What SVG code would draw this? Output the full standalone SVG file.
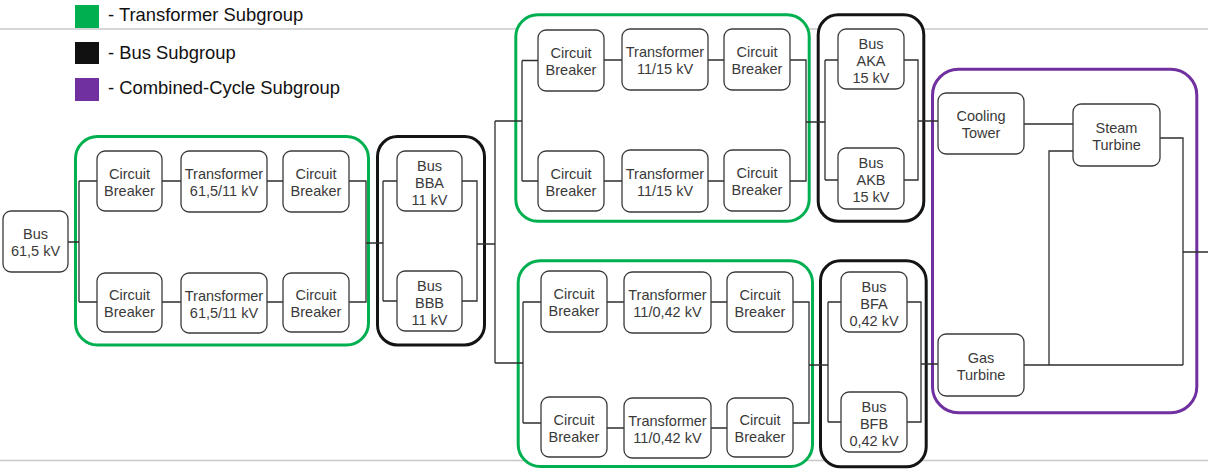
<svg xmlns="http://www.w3.org/2000/svg" width="1208" height="470" viewBox="0 0 1208 470">
  <style>
    .rule { stroke: #c8c8c8; stroke-width: 1.5; fill: none; }
    .grp { fill: #ffffff; stroke-width: 3; }
    .tg { stroke: #00b050; }
    .bg { stroke: #141414; }
    .cc { stroke: #7030a0; }
    .node rect { fill: #ffffff; stroke: #3a3a3a; stroke-width: 1.3; }
    .node text { font-family: "Liberation Sans", Arial, sans-serif; font-size: 14.5px; fill: #3a3a3a; text-anchor: middle; }
    .wire { fill: none; stroke: #2e2e2e; stroke-width: 1.3; }
    .legend text { font-family: "Liberation Sans", Arial, sans-serif; font-size: 18.4px; fill: #111111; }
  </style>

  <!-- page rules -->
  <line class="rule" x1="0" y1="29" x2="1208" y2="29"/>
  <line class="rule" x1="0" y1="460.5" x2="1208" y2="460.5"/>

  <!-- subgroup frames -->
  <g id="subgroups">
    <rect id="tg-615-11" class="grp tg" x="75.5" y="136.5" width="293" height="208.5" rx="22"/>
    <rect id="bg-bb" class="grp bg" x="377.5" y="136.5" width="107" height="208.5" rx="20"/>
    <rect id="tg-11-15" class="grp tg" x="515.8" y="14.8" width="293.4" height="206.4" rx="22"/>
    <rect id="bg-ak" class="grp bg" x="818.2" y="14.8" width="105.6" height="206.4" rx="20"/>
    <rect id="tg-11-042" class="grp tg" x="518.2" y="260.8" width="294.3" height="205.7" rx="22"/>
    <rect id="bg-bf" class="grp bg" x="820.5" y="260.8" width="105.7" height="206" rx="20"/>
    <rect id="cc-group" class="grp cc" x="932.5" y="69.2" width="264.3" height="343.6" rx="26"/>
  </g>

  <!-- connectors -->
  <g id="connectors" class="wire">
    <path d="M68,242 H79 M79,181 V302 M79,181 H97 M79,302 H97"/>
    <path d="M162,181 H181 M267,181 H283 M162,302 H181 M267,302 H283"/>
    <path d="M349,181 H366 V302 H349 M366,243 H383"/>
    <path d="M383,181 V301 M383,181 H397 M383,301 H397"/>
    <path d="M462,181 H477 V301 H462 M477,244 H495"/>
    <path d="M495,121 V363"/>
    <path d="M495,121 H522 M522,60.5 V181 M522,60.5 H538 M522,181 H538"/>
    <path d="M604,60 H622 M708,60 H724 M604,181 H622 M708,181 H724"/>
    <path d="M790,60 H806 V181 H790 M806,122 H825"/>
    <path d="M825,60 V180 M825,60 H838 M825,180 H838"/>
    <path d="M904,60 H918 V180 H904 M918,121 H938"/>
    <path d="M495,363 H523 M523,302 V423 M523,302 H541 M523,423 H541"/>
    <path d="M607,302 H624 M711,302 H727 M607,428 H624 M711,428 H727"/>
    <path d="M793,302 H809 V423 H793 M809,365 H828"/>
    <path d="M828,302 V422 M828,302 H841 M828,422 H841"/>
    <path d="M907,302 H921 V422 H907 M921,364 H938"/>
    <path d="M1024,124 H1073 M1073,151 H1049 V365 M1024,365 H1183"/>
    <path d="M1160,138 H1183 V365 M1183,252 H1208"/>
  </g>

  <!-- incoming bus -->
  <g id="bus-615" class="node">
    <rect x="3" y="211" width="65" height="61" rx="8"/>
    <text><tspan x="35.5" y="239">Bus</tspan><tspan x="35.5" y="256">61,5 kV</tspan></text>
  </g>

  <!-- 61,5/11 kV transformer lines -->
  <g id="cb-1a" class="node">
    <rect x="97" y="151" width="65" height="60" rx="8"/>
    <text><tspan x="129.5" y="178.5">Circuit</tspan><tspan x="129.5" y="195.5">Breaker</tspan></text>
  </g>
  <g id="tr-1" class="node">
    <rect x="181" y="151" width="86" height="61" rx="8"/>
    <text><tspan x="224" y="179">Transformer</tspan><tspan x="224" y="196">61,5/11 kV</tspan></text>
  </g>
  <g id="cb-1b" class="node">
    <rect x="283" y="151" width="66" height="61" rx="8"/>
    <text><tspan x="316" y="179">Circuit</tspan><tspan x="316" y="196">Breaker</tspan></text>
  </g>
  <g id="cb-2a" class="node">
    <rect x="97" y="273" width="65" height="59" rx="8"/>
    <text><tspan x="129.5" y="300">Circuit</tspan><tspan x="129.5" y="317">Breaker</tspan></text>
  </g>
  <g id="tr-2" class="node">
    <rect x="181" y="273" width="86" height="60" rx="8"/>
    <text><tspan x="224" y="300.5">Transformer</tspan><tspan x="224" y="317.5">61,5/11 kV</tspan></text>
  </g>
  <g id="cb-2b" class="node">
    <rect x="283" y="273" width="66" height="59" rx="8"/>
    <text><tspan x="316" y="300">Circuit</tspan><tspan x="316" y="317">Breaker</tspan></text>
  </g>

  <!-- 11 kV buses -->
  <g id="bus-bba" class="node">
    <rect x="397" y="151" width="65" height="60" rx="8"/>
    <text><tspan x="429.5" y="170.5">Bus</tspan><tspan x="429.5" y="187.5">BBA</tspan><tspan x="429.5" y="204.5">11 kV</tspan></text>
  </g>
  <g id="bus-bbb" class="node">
    <rect x="397" y="271" width="65" height="60" rx="8"/>
    <text><tspan x="429.5" y="290.5">Bus</tspan><tspan x="429.5" y="307.5">BBB</tspan><tspan x="429.5" y="324.5">11 kV</tspan></text>
  </g>

  <!-- 11/15 kV transformer lines -->
  <g id="cb-3a" class="node">
    <rect x="538" y="30" width="66" height="61" rx="8"/>
    <text><tspan x="571" y="58">Circuit</tspan><tspan x="571" y="75">Breaker</tspan></text>
  </g>
  <g id="tr-3" class="node">
    <rect x="622" y="29" width="86" height="61" rx="8"/>
    <text><tspan x="665" y="57">Transformer</tspan><tspan x="665" y="74">11/15 kV</tspan></text>
  </g>
  <g id="cb-3b" class="node">
    <rect x="724" y="29" width="66" height="61" rx="8"/>
    <text><tspan x="757" y="57">Circuit</tspan><tspan x="757" y="74">Breaker</tspan></text>
  </g>
  <g id="cb-4a" class="node">
    <rect x="538" y="151" width="66" height="60" rx="8"/>
    <text><tspan x="571" y="178.5">Circuit</tspan><tspan x="571" y="195.5">Breaker</tspan></text>
  </g>
  <g id="tr-4" class="node">
    <rect x="622" y="150" width="86" height="62" rx="8"/>
    <text><tspan x="665" y="178.5">Transformer</tspan><tspan x="665" y="195.5">11/15 kV</tspan></text>
  </g>
  <g id="cb-4b" class="node">
    <rect x="724" y="150" width="66" height="61" rx="8"/>
    <text><tspan x="757" y="178">Circuit</tspan><tspan x="757" y="195">Breaker</tspan></text>
  </g>

  <!-- 11/0,42 kV transformer lines -->
  <g id="cb-5a" class="node">
    <rect x="541" y="271" width="66" height="61" rx="8"/>
    <text><tspan x="574" y="299">Circuit</tspan><tspan x="574" y="316">Breaker</tspan></text>
  </g>
  <g id="tr-5" class="node">
    <rect x="624" y="272" width="87" height="61" rx="8"/>
    <text><tspan x="667.5" y="300">Transformer</tspan><tspan x="667.5" y="317">11/0,42 kV</tspan></text>
  </g>
  <g id="cb-5b" class="node">
    <rect x="727" y="272" width="66" height="60" rx="8"/>
    <text><tspan x="760" y="299.5">Circuit</tspan><tspan x="760" y="316.5">Breaker</tspan></text>
  </g>
  <g id="cb-6a" class="node">
    <rect x="541" y="397" width="66" height="60" rx="8"/>
    <text><tspan x="574" y="424.5">Circuit</tspan><tspan x="574" y="441.5">Breaker</tspan></text>
  </g>
  <g id="tr-6" class="node">
    <rect x="624" y="398" width="87" height="60" rx="8"/>
    <text><tspan x="667.5" y="425.5">Transformer</tspan><tspan x="667.5" y="442.5">11/0,42 kV</tspan></text>
  </g>
  <g id="cb-6b" class="node">
    <rect x="727" y="398" width="66" height="59" rx="8"/>
    <text><tspan x="760" y="425">Circuit</tspan><tspan x="760" y="442">Breaker</tspan></text>
  </g>

  <!-- 15 kV buses -->
  <g id="bus-aka" class="node">
    <rect x="838" y="29" width="66" height="60" rx="8"/>
    <text><tspan x="871" y="48.5">Bus</tspan><tspan x="871" y="65.5">AKA</tspan><tspan x="871" y="82.5">15 kV</tspan></text>
  </g>
  <g id="bus-akb" class="node">
    <rect x="838" y="148" width="66" height="61" rx="8"/>
    <text><tspan x="871" y="168">Bus</tspan><tspan x="871" y="185">AKB</tspan><tspan x="871" y="202">15 kV</tspan></text>
  </g>

  <!-- 0,42 kV buses -->
  <g id="bus-bfa" class="node">
    <rect x="841" y="272" width="66" height="60" rx="8"/>
    <text><tspan x="874" y="291.5">Bus</tspan><tspan x="874" y="308.5">BFA</tspan><tspan x="874" y="325.5">0,42 kV</tspan></text>
  </g>
  <g id="bus-bfb" class="node">
    <rect x="841" y="392" width="66" height="60" rx="8"/>
    <text><tspan x="874" y="411.5">Bus</tspan><tspan x="874" y="428.5">BFB</tspan><tspan x="874" y="445.5">0,42 kV</tspan></text>
  </g>

  <!-- combined-cycle plant -->
  <g id="cooling-tower" class="node">
    <rect x="938" y="93" width="86" height="61" rx="8"/>
    <text><tspan x="981" y="121">Cooling</tspan><tspan x="981" y="138">Tower</tspan></text>
  </g>
  <g id="steam-turbine" class="node">
    <rect x="1073" y="104" width="87" height="62" rx="8"/>
    <text><tspan x="1116.5" y="132.5">Steam</tspan><tspan x="1116.5" y="149.5">Turbine</tspan></text>
  </g>
  <g id="gas-turbine" class="node">
    <rect x="938" y="334" width="86" height="62" rx="8"/>
    <text><tspan x="981" y="362.5">Gas</tspan><tspan x="981" y="379.5">Turbine</tspan></text>
  </g>

  <!-- legend -->
  <g id="legend" class="legend">
    <rect x="75" y="5" width="24" height="23" fill="#00b050"/>
    <text x="108" y="21">- Transformer Subgroup</text>
    <rect x="75" y="42" width="24" height="22" fill="#111111"/>
    <text x="108" y="59">- Bus Subgroup</text>
    <rect x="75" y="78" width="24" height="23" fill="#7030a0"/>
    <text x="108" y="94">- Combined-Cycle Subgroup</text>
  </g>
</svg>
